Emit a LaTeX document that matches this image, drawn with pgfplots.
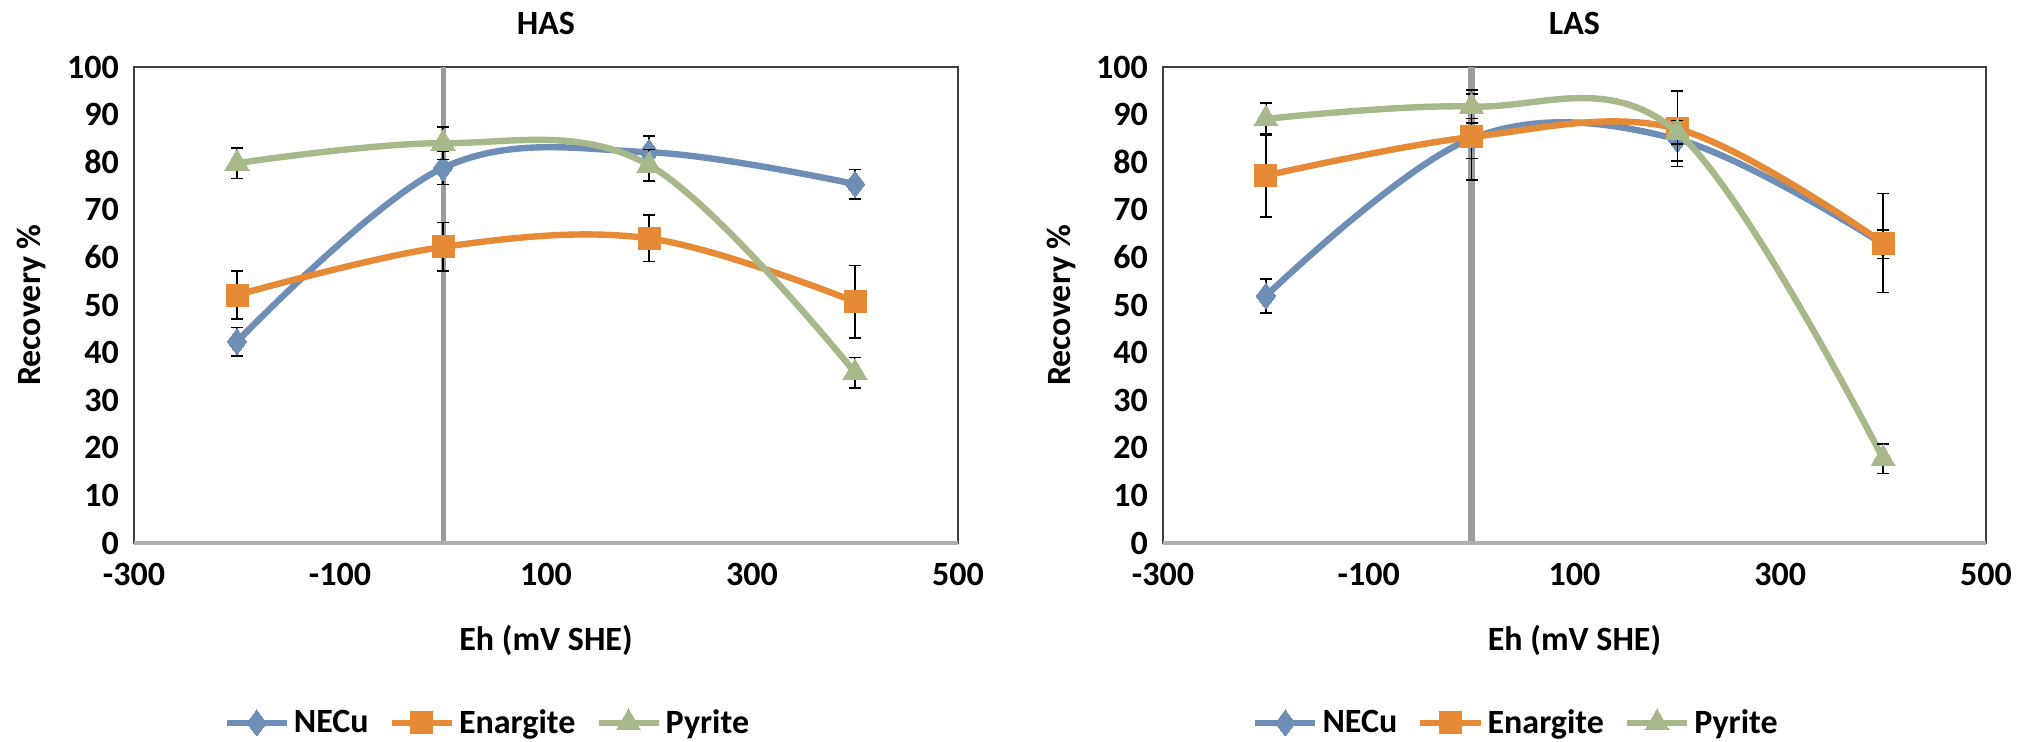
\documentclass[border=0pt]{standalone}
\usepackage{pgfplots}
\pgfplotsset{compat=1.18}
\usepackage{fontspec}
\setmainfont{Carlito}
\definecolor{cBlue}{HTML}{6F8EB7}
\definecolor{cOrange}{HTML}{E68A36}
\definecolor{cGreen}{HTML}{A7B98A}
\definecolor{cVline}{HTML}{9B9B9B}
\definecolor{cFrame}{HTML}{404040}
\newcommand{\ff}{\fontsize{17}{20}\selectfont\bfseries}
\pgfplotsset{
  panel/.style={
    scale only axis,
    clip mode=individual,
    width=412pt, height=238pt,
    xmin=-300, xmax=500, ymin=0, ymax=100,
    xtick={-300,-100,100,300,500},
    xticklabels={{-300},{-100},{100},{300},{500}},
    ytick={0,10,...,100},
    major tick length=0pt,
    /pgf/number format/assume math mode=true,
    tick label style={font=\ff},
    yticklabel style={xshift=-4pt},
    xticklabel style={yshift=-6.5pt},
    axis line style={draw=cFrame, line width=0.8pt},
    xlabel={Eh (mV SHE)}, ylabel={Recovery \%},
    label style={font=\ff},
    xlabel style={at={(axis description cs:0.5,-0.204)}, anchor=center},
    ylabel style={at={(axis description cs:-0.124,0.5)}, anchor=center},
    legend style={draw=none, fill=none, font=\ff, legend columns=-1, anchor=center,
      at={(axis description cs:0.43,-0.378)},
      /tikz/every even column/.append style={column sep=8pt}},
    legend image code/.code={\draw[mark repeat=2, mark phase=2] plot coordinates {(0pt,0pt) (15pt,0pt) (30pt,0pt)};},
  },
  errs/.style={
    /pgfplots/error bars/y dir=both,
    /pgfplots/error bars/y explicit,
    /pgfplots/error bars/error bar style={black, line width=0.8pt, solid},
    /pgfplots/error bars/error mark options={rotate=90, black, mark size=3pt, line width=0.8pt, solid},
  },
  sNE/.style={errs, line width=3.2pt, smooth, tension=0.6, color=cBlue, mark=diamond*, mark size=6.5pt, mark options={solid, line width=0pt, fill=cBlue}},
  sEN/.style={errs, line width=3.2pt, smooth, tension=0.6, color=cOrange, mark=square*, mark size=5.5pt, mark options={solid, line width=0pt, fill=cOrange}},
  sPY/.style={errs, line width=3.2pt, smooth, tension=0.6, color=cGreen, mark=triangle*, mark size=7pt, mark options={solid, line width=0pt, fill=cGreen}},
}
\begin{document}
\begin{tikzpicture}
\useasboundingbox (0,0) rectangle (1013pt,-370.5pt);
% ---------------- HAS ----------------
\begin{axis}[panel, at={(67pt,-271.5pt)}, anchor=south west]
\addplot[cVline, line width=2.5pt, no marks, forget plot, sharp plot] coordinates {(0,0) (0,100)};
\addplot[sNE] coordinates {
  (-200,42.3) +- (0,3.0)
  (0,78.8)    +- (0,3.5)
  (200,82.1)  +- (0,3.4)
  (400,75.4)  +- (0,3.1)
};
\addlegendentry{NECu}
\addplot[sEN] coordinates {
  (-200,52.1) +- (0,5.1)
  (0,62.2)    +- (0,5.1)
  (200,64.0)  +- (0,4.9)
  (400,50.7)  +- (0,7.6)
};
\addlegendentry{Enargite}
\addplot[sPY] coordinates {
  (-200,79.8) +- (0,3.2)
  (0,84.0)    +- (0,3.4)
  (200,79.4)  +- (0,3.3)
  (400,35.8)  +- (0,3.2)
};
\addlegendentry{Pyrite}
\draw[cVline!80, line width=1.6pt] (rel axis cs:0,0) -- (rel axis cs:1,0);
\node[font=\ff, anchor=center] at (axis description cs:0.5,1.092) {HAS};
\end{axis}
% ---------------- LAS ----------------
\begin{axis}[panel, at={(581.5pt,-271.5pt)}, anchor=south west, width=411.5pt]
\addplot[cVline, line width=3.5pt, no marks, forget plot, sharp plot] coordinates {(0,0) (0,100)};
\addplot[sNE] coordinates {
  (-200,51.9) +- (0,3.6)
  (0,85.0)    +- (0,4.2)
  (200,84.8)  +- (0,4.6)
  (400,62.8)  +- (0,3.0)
};
\addlegendentry{NECu}
\addplot[sEN] coordinates {
  (-200,77.2) +- (0,8.7)
  (0,85.3)    +- (0,9.0)
  (200,87.0)  +- (0,7.9)
  (400,63.0)  +- (0,10.4)
};
\addlegendentry{Enargite}
\addplot[sPY] coordinates {
  (-200,89.1) +- (0,3.4)
  (0,91.7)    +- (0,3.5)
  (200,86.3)  +- (0,2.5)
  (400,17.7)  +- (0,3.1)
};
\addlegendentry{Pyrite}
\draw[cVline!80, line width=1.6pt] (rel axis cs:0,0) -- (rel axis cs:1,0);
\node[font=\ff, anchor=center] at (axis description cs:0.5,1.092) {LAS};
\end{axis}
\end{tikzpicture}
\end{document}
